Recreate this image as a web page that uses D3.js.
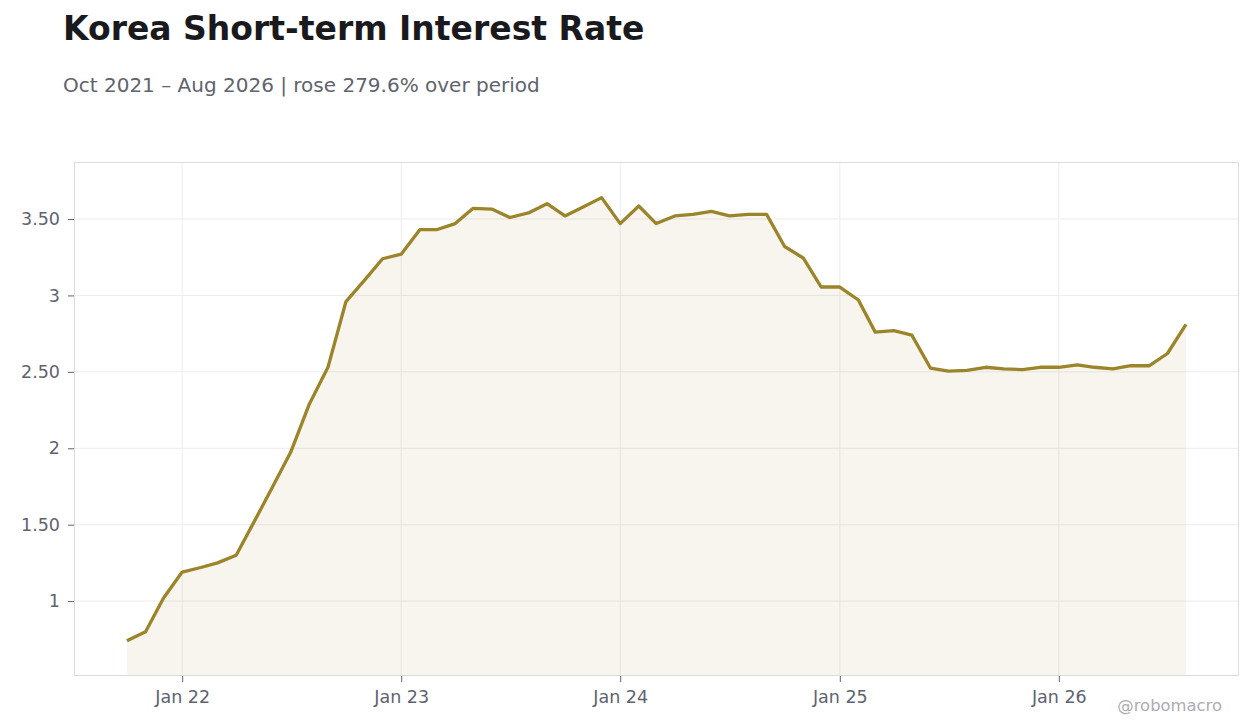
<!DOCTYPE html>
<html>
<head>
<meta charset="utf-8">
<script src="https://cdn.jsdelivr.net/npm/d3@7"></script>
<style>
  html, body { margin: 0; padding: 0; background: #ffffff; }
  svg { display: block; font-family: "DejaVu Sans", sans-serif; }
</style>
</head>
<body>
<svg id="chart" width="1260" height="728"></svg>
<script>
// ---- Data ----
const startMonth = "2021-10";
const rates = [
  0.74, 0.80, 1.02,                                   // Oct-Dec 2021
  1.19, 1.22, 1.25, 1.30, 1.52, 1.75, 1.975, 2.29, 2.53, 2.96, 3.10, 3.24, // 2022
  3.27, 3.43, 3.43, 3.47, 3.57, 3.565, 3.51, 3.54, 3.60, 3.52, 3.58, 3.64, // 2023
  3.47, 3.585, 3.47, 3.52, 3.53, 3.55, 3.52, 3.53, 3.53, 3.32, 3.245, 3.055, // 2024
  3.055, 2.97, 2.76, 2.77, 2.74, 2.525, 2.505, 2.51, 2.53, 2.52, 2.515, 2.53, // 2025
  2.53, 2.545, 2.53, 2.52, 2.54, 2.54, 2.62, 2.81      // Jan-Aug 2026
];
const yTicks = [1, 1.5, 2, 2.5, 3, 3.5];
const yTickLabels = ["1", "1.50", "2", "2.50", "3", "3.50"];
const xTickDates = ["2022-01-01", "2023-01-01", "2024-01-01", "2025-01-01", "2026-01-01"];
const xTickLabels = ["Jan 22", "Jan 23", "Jan 24", "Jan 25", "Jan 26"];
const title = "Korea Short-term Interest Rate";
const subtitle = "Oct 2021 – Aug 2026 | rose 279.6% over period";
const watermark = "@robomacro";

// ---- Build series ----
const parseMonth = d3.utcParse("%Y-%m");
const t0 = parseMonth(startMonth);
const data = rates.map((v, i) => ({ date: d3.utcMonth.offset(t0, i), value: v }));

// ---- Layout ----
const W = 1260, H = 728;
const m = { left: 74, right: 21, top: 162, bottom: 52 };
const svg = d3.select("#chart");

const extent = d3.extent(data, d => d.date);
const span = extent[1] - extent[0];
const x = d3.scaleUtc()
  .domain([new Date(+extent[0] - span * 0.05), new Date(+extent[1] + span * 0.05)])
  .range([m.left, W - m.right]);

const y = d3.scaleLinear()
  .domain([0.51, 3.873])
  .range([H - m.bottom, m.top]);

const plotW = W - m.left - m.right, plotH = H - m.top - m.bottom;

// Gridlines
const grid = svg.append("g");
grid.selectAll("line.h").data(yTicks).join("line")
  .attr("x1", m.left).attr("x2", W - m.right)
  .attr("y1", d => y(d)).attr("y2", d => y(d))
  .attr("stroke", "#ececec").attr("stroke-width", 1);
grid.selectAll("line.v").data(xTickDates).join("line")
  .attr("x1", d => x(new Date(d))).attr("x2", d => x(new Date(d)))
  .attr("y1", m.top).attr("y2", H - m.bottom)
  .attr("stroke", "#ececec").attr("stroke-width", 1);

// Area
const area = d3.area()
  .x(d => x(d.date))
  .y0(y.range()[0])
  .y1(d => y(d.value));
svg.append("path").datum(data)
  .attr("d", area)
  .attr("fill", "#9b8429").attr("fill-opacity", 0.08);

// Line
const line = d3.line().x(d => x(d.date)).y(d => y(d.value));
svg.append("path").datum(data)
  .attr("d", line)
  .attr("fill", "none")
  .attr("stroke", "#9b8429")
  .attr("stroke-width", 3.3)
  .attr("stroke-linejoin", "round");

// Plot border
svg.append("rect")
  .attr("x", m.left + 0.5).attr("y", m.top + 0.5)
  .attr("width", plotW - 1).attr("height", plotH - 1)
  .attr("fill", "none").attr("stroke", "#dcdcdc").attr("stroke-width", 1);

// Axes
const xAxis = d3.axisBottom(x)
  .tickValues(xTickDates.map(d => new Date(d)))
  .tickFormat((d, i) => xTickLabels[i])
  .tickSize(6).tickPadding(9);
const gx = svg.append("g")
  .attr("transform", `translate(0,${H - m.bottom})`)
  .call(xAxis);
gx.select(".domain").remove();
gx.selectAll(".tick line").attr("stroke", "#5f6370");
gx.selectAll(".tick text")
  .attr("fill", "#5f6370")
  .style("font-family", "'DejaVu Sans', sans-serif")
  .style("font-size", "17.5px");

const yAxis = d3.axisLeft(y)
  .tickValues(yTicks)
  .tickFormat((d, i) => yTickLabels[i])
  .tickSize(6).tickPadding(8);
const gy = svg.append("g")
  .attr("transform", `translate(${m.left},0)`)
  .call(yAxis);
gy.select(".domain").remove();
gy.selectAll(".tick line").attr("stroke", "#5f6370");
gy.selectAll(".tick text")
  .attr("fill", "#5f6370")
  .style("font-family", "'DejaVu Sans', sans-serif")
  .style("font-size", "17.5px");

// Titles
svg.append("text")
  .attr("x", 63).attr("y", 40)
  .attr("fill", "#1a1a1e")
  .style("font-size", "33px").style("font-weight", "bold")
  .text(title);
svg.append("text")
  .attr("x", 63).attr("y", 92)
  .attr("fill", "#60636e")
  .style("font-size", "20px")
  .text(subtitle);

// Watermark
svg.append("text")
  .attr("x", 1222).attr("y", 711)
  .attr("text-anchor", "end")
  .attr("fill", "#adadb2")
  .style("font-size", "16.4px")
  .text(watermark);
</script>
</body>
</html>
